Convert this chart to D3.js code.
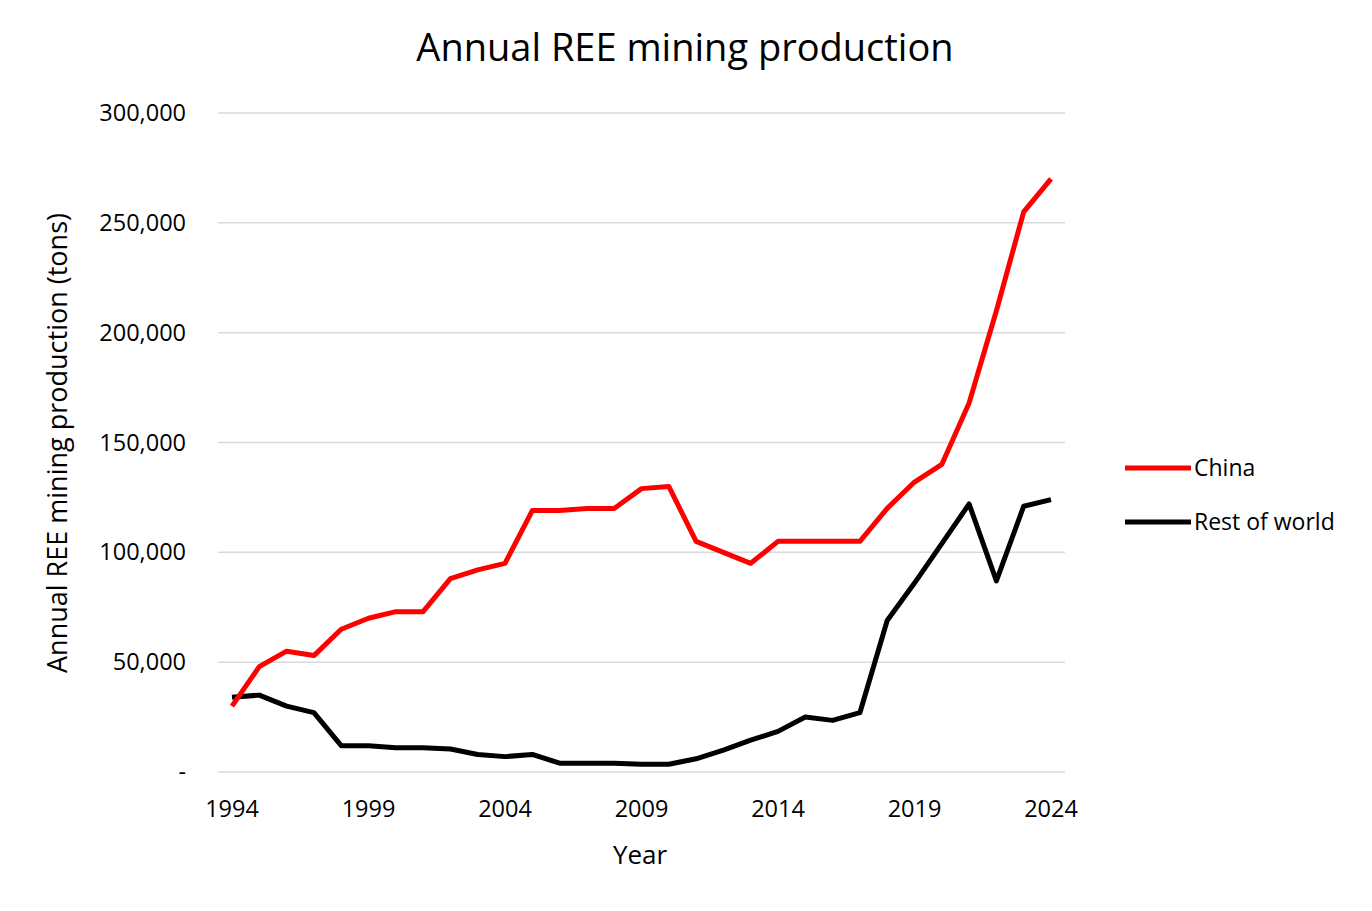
<!DOCTYPE html>
<meta charset="utf-8">
<style>
body { margin: 0; background: #fff; }
text { font-family: "Open Sans", sans-serif; fill: #000; }
.grid line { stroke: #d9d9d9; stroke-width: 1.5px; }
.line { fill: none; stroke-width: 5px; stroke-linejoin: round; }
</style>
<body>
<div id="main"></div>
<script src="https://d3js.org/d3.v7.min.js"></script>
<script>
var years = d3.range(1994, 2025);
var china = [30000, 48000, 55000, 53000, 65000, 70000, 73000, 73000, 88000, 92000, 95000,
	119000, 119000, 120000, 120000, 129000, 130000, 105000, 100000, 95000, 105000,
	105000, 105000, 105000, 120000, 132000, 140000, 168000, 210000, 255000, 270000];
var rest = [34000, 35000, 30000, 27000, 12000, 12000, 11000, 11000, 10500, 8000, 7000,
	8000, 4000, 4000, 4000, 3500, 3500, 6000, 10000, 14500, 18500,
	25000, 23500, 27000, 69000, 86000, 104000, 122000, 87000, 121000, 124000];
var yTicks = [0, 50000, 100000, 150000, 200000, 250000, 300000];
var xTicks = [1994, 1999, 2004, 2009, 2014, 2019, 2024];
var series = [
	{name: "China", values: china, color: "#ff0000"},
	{name: "Rest of world", values: rest, color: "#000000"}
];

var svg = d3.select("#main").append("svg").attr("width", 1372).attr("height", 911);

var x = d3.scaleLinear().domain([1994, 2024]).range([232, 1051]);
var y = d3.scaleLinear().domain([0, 300000]).range([772, 113]);

// gridlines
svg.append("g").attr("class", "grid")
	.selectAll("line").data(yTicks).enter().append("line")
	.attr("x1", 218).attr("x2", 1065)
	.attr("y1", function(d) { return y(d); }).attr("y2", function(d) { return y(d); });

// y labels
svg.selectAll(".ylab").data(yTicks).enter().append("text")
	.attr("x", 186).attr("y", function(d) { return y(d) + 8; })
	.attr("text-anchor", "end").style("font-size", "23.5px")
	.text(function(d) { return d === 0 ? "-" : d3.format(",")(d); });

// x labels
svg.selectAll(".xlab").data(xTicks).enter().append("text")
	.attr("x", function(d) { return x(d); }).attr("y", 817)
	.attr("text-anchor", "middle").style("font-size", "23.5px")
	.text(function(d) { return d; });

var line = d3.line()
	.x(function(d, i) { return x(years[i]); })
	.y(function(d) { return y(d); });

series.slice().reverse().forEach(function(s) {
	svg.append("path").attr("class", "line").attr("d", line(s.values)).attr("stroke", s.color);
});

// titles
svg.append("text").attr("x", 685).attr("y", 61).attr("text-anchor", "middle")
	.style("font-size", "38px").text("Annual REE mining production");
svg.append("text").attr("x", 640).attr("y", 864).attr("text-anchor", "middle")
	.style("font-size", "26px").text("Year");
svg.append("text").attr("transform", "translate(67,443) rotate(-90)").attr("text-anchor", "middle")
	.style("font-size", "27px").text("Annual REE mining production (tons)");

// legend
var leg = svg.selectAll(".leg").data(series).enter().append("g")
	.attr("transform", function(d, i) { return "translate(1125," + (468 + i * 54) + ")"; });
leg.append("line").attr("x1", 0).attr("x2", 66).attr("stroke-width", 5)
	.attr("stroke", function(d) { return d.color; });
leg.append("text").attr("x", 69).attr("y", 8).style("font-size", "23px")
	.text(function(d) { return d.name; });
</script>
</body>
